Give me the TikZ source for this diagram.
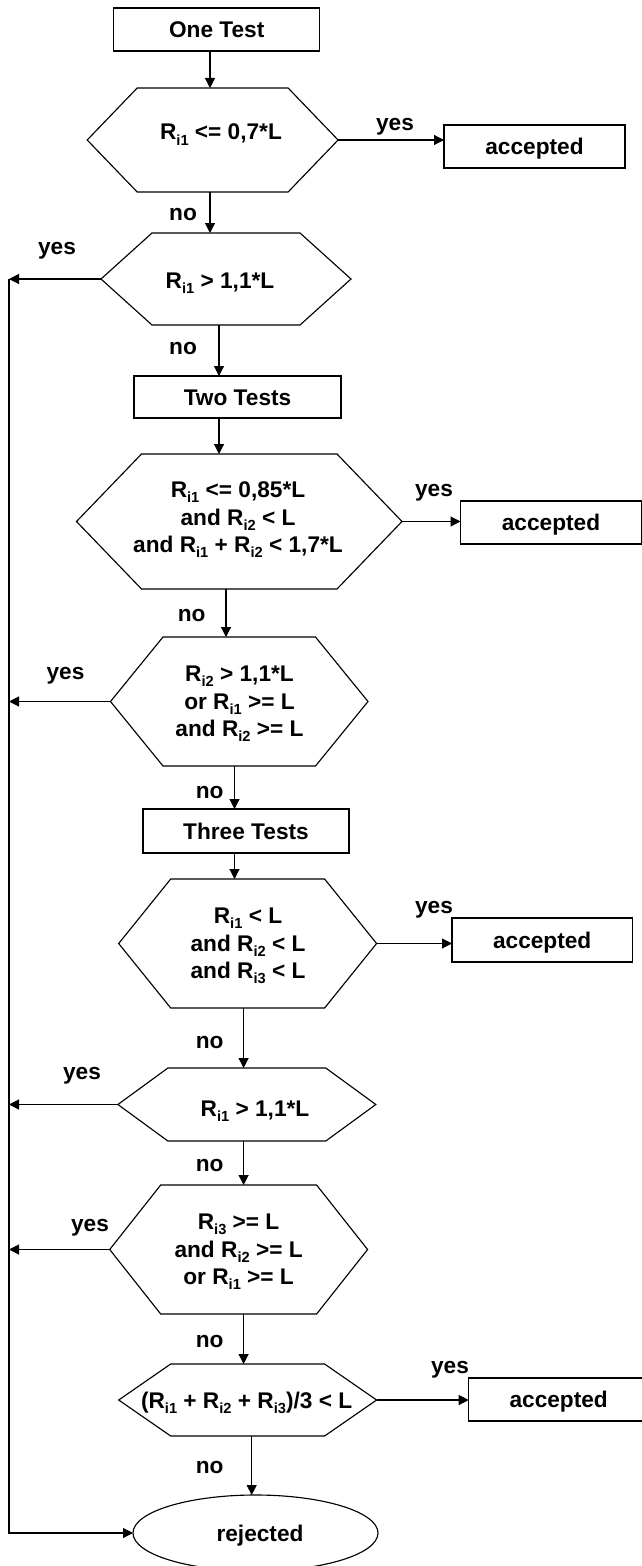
\documentclass[tikz,border=0pt]{standalone}
\usepackage{fontspec}
\setmainfont{Liberation Sans}
\usetikzlibrary{arrows.meta,shapes.geometric}
\newcommand\Rx[1]{R\raisebox{-0.42ex}{\fontsize{11}{11}\selectfont i#1}}
% name, cx, cy, half width, half height, inset
\newcommand\hexa[6]{%
  \draw[shapeline] ({#2-#4},#3) -- ({#2-#4+#6},{#3-#5}) -- ({#2+#4-#6},{#3-#5})
    -- ({#2+#4},#3) -- ({#2+#4-#6},{#3+#5}) -- ({#2-#4+#6},{#3+#5}) -- cycle;
  \node[hexfit, minimum width={2*#4*0.75pt}, minimum height={2*#5*0.75pt}] (#1) at (#2,#3) {};}
\begin{document}
\begin{tikzpicture}[x=0.75pt,y=-0.75pt,line width=0.85pt,
  txt/.style={font=\fontsize{17}{20.6}\selectfont\bfseries},
  shapeline/.style={draw=black},
  hexfit/.style={draw=none,inner sep=0pt,outer sep=0pt,rectangle},
  box/.style={txt,draw,rectangle,inner sep=0pt,outer sep=0pt,text height=12.2pt,text depth=0pt},
  lbl/.style={txt,inner sep=0pt,anchor=base},
  cond/.style={txt,inner sep=0pt,align=center},
  arr/.style={-{Triangle[length=7.5pt,width=7.5pt]}}]
\clip (0,0) rectangle (642,1566);

% process boxes
\node[box,minimum width=206*0.75pt,minimum height=43*0.75pt] (one) at (216.7,29.5) {One Test};
\node[box,minimum width=207*0.75pt,minimum height=42*0.75pt] (two) at (237.5,397) {Two Tests};
\node[box,minimum width=206*0.75pt,minimum height=44*0.75pt] (three) at (246,831) {Three Tests};
\node[box,minimum width=181*0.75pt,minimum height=43*0.75pt] (acc1) at (534.5,146.5) {accepted};
\node[box,minimum width=181*0.75pt,minimum height=43*0.75pt] (acc2) at (551,522.5) {accepted};
\node[box,minimum width=180.4*0.75pt,minimum height=44*0.75pt] (acc3) at (542.2,940) {accepted};
\node[box,minimum width=180*0.75pt,minimum height=43*0.75pt] (acc4) at (558.7,1399.5) {accepted};
\node[txt,draw,ellipse,inner sep=0pt,outer sep=0pt,minimum width=245*0.75pt,minimum height=76*0.75pt] (rej) at (255.5,1533) {};
\node[lbl] (rejt) at (260,1541) {rejected};

% decisions
\hexa{h1}{212.65}{140}{125.45}{52}{50}
\hexa{h2}{226}{279}{125}{46}{51}
\hexa{h3}{239.25}{521.5}{162.75}{67.5}{65}
\hexa{h4}{239.25}{701.5}{128.75}{64.5}{52.5}
\hexa{h5}{247.65}{943.5}{128.95}{64.5}{52}
\hexa{h6}{246.85}{1104.5}{128.95}{36.5}{50}
\hexa{h7}{238.65}{1249.5}{128.95}{64.5}{51}
\hexa{h8}{247.65}{1400}{128.95}{36}{52}

\node[lbl] (t1) at (221,140) {\Rx{1} <= 0,7*L};
\node[lbl] (t2) at (220,288) {\Rx{1} > 1,1*L};
\node[cond] (t3) at (238,520) {\Rx{1} <= 0,85*L\\ and \Rx{2} < L\\ and \Rx{1} + \Rx{2} < 1,7*L};
\node[cond] (t4) at (239.5,704) {\Rx{2} > 1,1*L\\ or \Rx{1} >= L\\ and \Rx{2} >= L};
\node[cond] (t5) at (248,946) {\Rx{1} < L\\ and \Rx{2} < L\\ and \Rx{3} < L};
\node[lbl] (t6) at (255,1116) {\Rx{1} > 1,1*L};
\node[cond] (t7) at (238.6,1252) {\Rx{3} >= L\\ and \Rx{2} >= L\\ or \Rx{1} >= L};
\node[lbl] (t8) at (246.6,1408) {(\Rx{1} + \Rx{2} + \Rx{3})/3 < L};

% labels
\node[lbl] (y1) at (395,131) {yes};
\node[lbl] (n1) at (183,220) {no};
\node[lbl] (y2) at (57,254) {yes};
\node[lbl] (n2) at (183,354) {no};
\node[lbl] (y3) at (434,496) {yes};
\node[lbl] (n3) at (191.6,621) {no};
\node[lbl] (y4) at (65.5,679) {yes};
\node[lbl] (n4) at (209.6,798) {no};
\node[lbl] (y5) at (434,913) {yes};
\node[lbl] (n5) at (209.6,1048) {no};
\node[lbl] (y6) at (82,1079) {yes};
\node[lbl] (n6) at (209.6,1171) {no};
\node[lbl] (y7) at (90,1231) {yes};
\node[lbl] (n7) at (209.6,1347) {no};
\node[lbl] (y8) at (450,1373) {yes};
\node[lbl] (n8) at (209.6,1473) {no};

% x positions of vertical connectors and the left return line
\coordinate (v1) at (210,0);
\coordinate (v2) at (219,0);
\coordinate (v3) at (226,0);
\coordinate (v4) at (234.5,0);
\coordinate (v5) at (243.6,0);
\coordinate (v6) at (251.7,0);
\coordinate (L) at (9,0);

% vertical connectors
\draw[arr] (one.south -| v1) -- (h1.north -| v1);
\draw[arr] (h1.south -| v1) -- (h2.north -| v1);
\draw[arr] (h2.south -| v2) -- (two.north -| v2);
\draw[arr] (two.south -| v2) -- (h3.north -| v2);
\draw[arr] (h3.south -| v3) -- (h4.north -| v3);
\draw[arr] (h4.south -| v4) -- (three.north -| v4);
\draw[arr] (three.south -| v4) -- (h5.north -| v4);
\draw[arr] (h5.south -| v5) -- (h6.north -| v5);
\draw[arr] (h6.south -| v5) -- (h7.north -| v5);
\draw[arr] (h7.south -| v5) -- (h8.north -| v5);
\draw[arr] (h8.south -| v6) -- (rej.north -| v6);

% yes to accepted
\draw[arr] (h1.east) -- (h1.east -| acc1.west);
\draw[arr] (h3.east) -- (h3.east -| acc2.west);
\draw[arr] (h5.east) -- (h5.east -| acc3.west);
\draw[arr] (h8.east) -- (h8.east -| acc4.west);

% yes to rejected
\draw[arr] (h2.west) -- (h2.west -| L);
\draw[arr] (h4.west) -- (h4.west -| L);
\draw[arr] (h6.west) -- (h6.west -| L);
\draw[arr] (h7.west) -- (h7.west -| L);
\draw[arr] (h2.west -| L) -- (rej.west -| L) -- (rej.west);
\end{tikzpicture}
\end{document}
